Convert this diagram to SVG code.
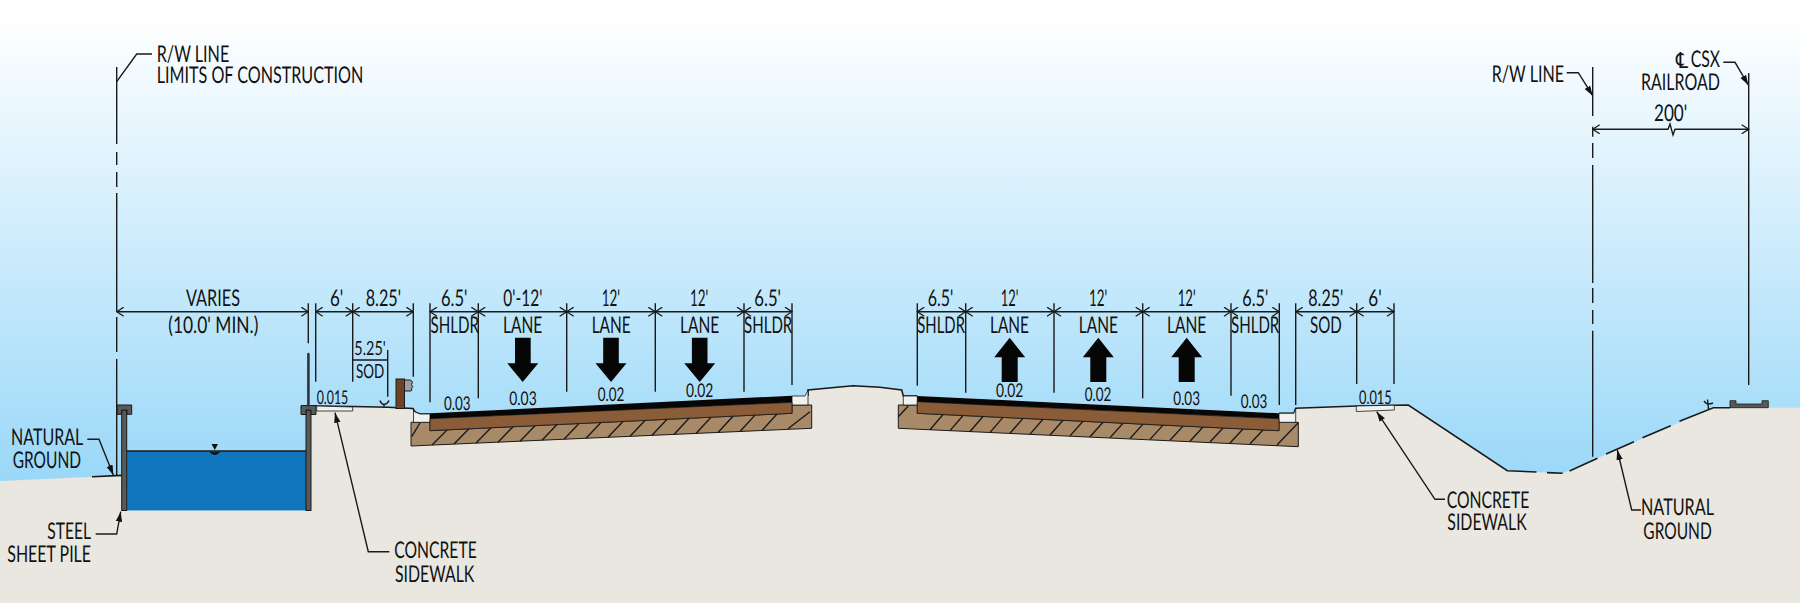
<svg xmlns="http://www.w3.org/2000/svg" width="1800" height="603" viewBox="0 0 1800 603">
<style>
text{font-family:"Lato","Open Sans","Liberation Sans",sans-serif;font-size:23px;fill:#111;text-rendering:geometricPrecision}
text.s{font-size:19.5px}
text.n{font-size:19px}
.l{fill:none;stroke:#1a1a1a;stroke-width:1.4}
.d{fill:none;stroke:#1a1a1a;stroke-width:1.4;marker-start:url(#chev);marker-end:url(#chev)}
.a{fill:none;stroke:#1a1a1a;stroke-width:1.4;marker-end:url(#tip)}
.g{fill:none;stroke:#1a1a1a;stroke-width:1.6}
.pile{fill:#58595b;stroke:#1a1a1a;stroke-width:1}
.conc{fill:#f1f1ee;stroke:#1a1a1a;stroke-width:.8}
.arrow{fill:#060606}
</style>
<defs>
<linearGradient id="sky" x1="0" y1="0" x2="0" y2="1">
<stop offset="0" stop-color="#ffffff"/>
<stop offset=".03" stop-color="#ffffff"/>
<stop offset=".5" stop-color="#cdecfc"/>
<stop offset="1" stop-color="#98d7f8"/>
</linearGradient>
<marker id="chev" viewBox="-8 -5 9 10" refX="0" refY="0" markerWidth="9" markerHeight="10" markerUnits="userSpaceOnUse" orient="auto-start-reverse">
<path d="M-7,-4.5 L0,0 L-7,4.5" fill="none" stroke="#1a1a1a" stroke-width="1.3"/>
</marker>
<marker id="tip" viewBox="-10 -4 11 8" refX="0" refY="0" markerWidth="11" markerHeight="8" markerUnits="userSpaceOnUse" orient="auto">
<path d="M-10,-3.2 L0,0 L-10,3.2 Z" fill="#111"/>
</marker>
</defs>

<rect id="sky-bg" width="1800" height="490" fill="url(#sky)"/>

<g id="ground">
<path fill="#e9e7df" d="M0,481 L122,475.4 L122,511 L311,511 L311,406 L353,406.5 L388,407.3 L413,408.5 L415,412 L420,414 L430,414 L792,396 L808,396 L808,390 L853,385.7 L880,387.3 L901.7,390 L903.3,396 L917.3,396 L1279,413.3 L1294,413 L1295.7,408.3 L1356.7,406 L1408.3,405 L1507.3,470.7 L1562.7,473.3 L1713.3,407.7 L1800,407.7 L1800,603 L0,603 Z"/>
<path class="g" d="M92,476.7 L122,475.4"/>
<path class="g" d="M316,406 L353,406.5 L388,407.3 L413,408.5 L415,412 L420,414 L430,414"/>
<path class="g" stroke-width="1" d="M808,396 L808,390 L853,385.7 L880,387.3 L901.7,390 L903.3,396 L917.3,396"/>
<path class="g" d="M1279,413.3 L1294,413 L1295.7,408.3 L1356.7,406 L1408.3,405 L1507.3,470.7 L1536.5,472 M1547,472.6 L1562.7,473.3 M1569.5,471 L1597.5,458.3 M1606,454 L1634,441.7 M1642.5,437.7 L1670.7,425.7 M1679.5,421.3 L1713.3,407.7 L1730,407.7"/>
</g>

<g id="water">
<rect x="127" y="451" width="179" height="59.5" fill="#1175bd"/>
<path class="g" d="M127,451 H306"/>
<path fill="#111" d="M211.5,444 H218 L214.8,450 Z M209,451.5 Q214.8,453 220.5,451.5 Q217,455 214.8,455 Q212,455 209,451.5 Z"/>
</g>

<g id="left-pile">
<rect class="pile" x="121.7" y="410" width="5" height="100.5"/>
<path class="pile" d="M117,405 H131.7 V414.3 H127 V410 H121.7 V414.3 H117 Z"/>
</g>
<g id="right-pile">
<rect class="pile" x="306" y="410" width="5" height="100.5"/>
<path class="pile" d="M301,405.5 H316 V414.5 H311 V410 H306 V414.5 H301 Z"/>
<path d="M308.4,354 V405.5" fill="none" stroke="#333" stroke-width="2.6" stroke-linecap="round"/>
</g>

<g id="left-sidewalk"><path class="conc" d="M316.7,406 L352.7,407 V411 H316.7 Z"/></g>
<g id="barrier">
<rect x="396" y="379" width="8.5" height="29.5" fill="#6e4325" stroke="#1a1a1a" stroke-width="1"/>
<path d="M404.5,380 H410.7 Q413.8,382 411.5,384.5 Q413.8,386.5 411.5,388.5 Q412.8,390.5 410.7,391 H404.5 Z" fill="#9b9da0" stroke="#1a1a1a" stroke-width="1"/>
</g>
<g id="grade-mark-left"><path class="l" d="M380,400.5 Q381,404 384,404.5 Q387.5,404 389,400.5 M384,404.5 V407"/></g>
<g id="grade-mark-right"><path class="l" d="M1704,401 Q1706,404 1708.5,404 Q1710.5,404 1713,403 M1707.5,399.5 L1708.5,409"/></g>

<g id="left-roadway">
<path fill="#a98a68" stroke="#1a1a1a" stroke-width="1" d="M411,422.3 H430 V430.7 L792,413.3 V405 H811.7 V428.3 L411,446 Z"/>
<path class="conc" d="M413.5,410.5 L415,412 L420,414 H430 V422.3 H413.5 Z"/>
<path class="conc" d="M792,396 H805 L808,390 V405 H792 Z"/>
<path fill="#8a5c38" stroke="#1a1a1a" stroke-width=".8" d="M430,418.7 L792,402.3 V413.3 L430,430.7 Z"/>
<path fill="#060606" d="M430,413.3 L792,395.7 V402.3 L430,418.7 Z"/>
<path class="l" d="M411.7,436.7 L420,423 M432,445.1 L447,429.9 M454,444.1 L469,428.8 M476,443.1 L491,427.8 M498,442.2 L513,426.7 M520,441.2 L535,425.7 M542,440.2 L557,424.6 M564,439.2 L579,423.5 M586,438.3 L601,422.5 M608,437.3 L623,421.4 M630,436.3 L645,420.4 M652,435.3 L667,419.3 M674,434.4 L689,418.3 M696,433.4 L711,417.2 M718,432.4 L733,416.2 M740,431.5 L755,415.1 M762,430.5 L777,414 M788,428.8 L810,411.7"/>
</g>

<g id="right-roadway">
<path fill="#a98a68" stroke="#1a1a1a" stroke-width="1" d="M898.3,405 H917.3 V413.3 L1279,430.7 V422.3 H1298.3 V446.7 L898.3,428.3 Z"/>
<path class="conc" d="M903.3,396 H917.3 V405 H903.3 Z"/>
<path class="conc" d="M1279,413.3 H1294 L1295.7,408.3 V422.3 H1279 Z"/>
<path fill="#8a5c38" stroke="#1a1a1a" stroke-width=".8" d="M917.3,401.7 L1279,418.7 V430.7 L917.3,413.3 Z"/>
<path fill="#060606" d="M917.3,396 L1279,413.3 V418.7 L917.3,401.7 Z"/>
<path class="l" d="M898.3,416.7 L908.3,406 M930,429.7 L943,414.5 M950,430.6 L963,415.5 M970,431.5 L983,416.5 M990,432.4 L1003,417.4 M1010,433.2 L1023,418.4 M1030,434.1 L1043,419.3 M1050,435 L1063,420.3 M1070,435.9 L1083,421.3 M1090,436.7 L1103,422.2 M1110,437.6 L1123,423.2 M1130,438.5 L1143,424.1 M1150,439.4 L1163,425.1 M1170,440.3 L1183,426.1 M1190,441.2 L1203,427 M1210,442 L1223,428 M1230,442.9 L1243,428.9 M1250,443.8 L1263,429.9 M1277,445 L1298,423"/>
</g>

<g id="right-sidewalk"><path class="conc" d="M1356.3,406 L1394.3,405.2 V410 L1356.3,411.5 Z"/></g>
<g id="track"><path fill="#58595b" stroke="#1a1a1a" stroke-width=".8" d="M1730,400.7 H1736 V404 H1762 V400.7 H1768.3 V407.7 H1730 Z"/></g>

<g id="lane-arrows">
<path class="arrow" id="lane-arrow-1" d="M515,337.7 H530.7 V363.3 H538.3 L522.7,382 L507.3,363.3 H515 Z"/>
<path class="arrow" id="lane-arrow-2" d="M603.2,337.7 H618.8 V363.3 H626.5 L611,382 L595.5,363.3 H603.2 Z"/>
<path class="arrow" id="lane-arrow-3" d="M691.9,337.7 H707.5 V363.3 H715.2 L699.7,382 L684.2,363.3 H691.9 Z"/>
<path class="arrow" id="lane-arrow-4" d="M1009.7,337.7 L1025.2,357.3 H1017.7 V382 H1001.7 V357.3 H994.2 Z"/>
<path class="arrow" id="lane-arrow-5" d="M1098.3,337.7 L1113.8,357.3 H1106.3 V382 H1090.3 V357.3 H1082.8 Z"/>
<path class="arrow" id="lane-arrow-6" d="M1186.7,337.7 L1202.2,357.3 H1194.7 V382 H1178.7 V357.3 H1171.2 Z"/>
</g>

<g id="connectors">
<path class="l" d="M116.7,67 V144 M116.7,152 V165 M116.7,172 V187 M116.7,193 V312 M116.7,317 V352 M116.7,359 V475"/>
<path class="l" d="M1592.7,67 V116 M1592.7,126.7 V136.7 M1592.7,143 V158 M1592.7,165 V283 M1592.7,288 V303 M1592.7,310 V324 M1592.7,330.7 V456.7"/>
<path class="l" stroke-width="1.6" d="M1748.7,73 V385"/>
<path class="l" d="M308.3,303.3 V343.3 M315.7,303.3 V381.7 M352.7,303.3 V381.7 M413.3,303.3 V376.7 M387.7,350 V396.7 M352.7,360 H387.7"/>
<path class="l" d="M430,303.3 V402.3 M478.3,303.3 V398.3 M566.7,303.3 V391.7 M655.3,303.3 V391.7 M744,303.3 V391.7 M792,303.3 V385"/>
<path class="l" d="M917.3,303.3 V385.7 M965.7,303.3 V392.7 M1054,303.3 V392.7 M1142.7,303.3 V398.3 M1231,303.3 V395.7 M1279.3,303.3 V405 M1295.7,303.3 V405 M1356.7,303.3 V384 M1394,303.3 V384"/>
<path class="d" d="M116.7,311.7 H308.3"/>
<path class="d" d="M315.7,311.7 H352.7"/>
<path class="d" d="M352.7,311.7 H413.3"/>
<path class="d" d="M430,311.7 H478.3"/>
<path class="d" d="M478.3,311.7 H566.7"/>
<path class="d" d="M566.7,311.7 H655.3"/>
<path class="d" d="M655.3,311.7 H744"/>
<path class="d" d="M744,311.7 H792"/>
<path class="d" d="M917.3,311.7 H965.7"/>
<path class="d" d="M965.7,311.7 H1054"/>
<path class="d" d="M1054,311.7 H1142.7"/>
<path class="d" d="M1142.7,311.7 H1231"/>
<path class="d" d="M1231,311.7 H1279.3"/>
<path class="d" d="M1295.7,311.7 H1356.7"/>
<path class="d" d="M1356.7,311.7 H1394"/>
<path class="d" d="M1592.7,129.3 H1668 L1670,124 L1673,135 L1675,129.3 H1748.7"/>
<path class="l" d="M152,54 H136.7 L116.7,81.7"/>
<path class="a" d="M1566.7,72.7 H1578.3 L1592.7,95.7"/>
<path class="a" d="M1723.3,62.3 H1735 L1748.3,85"/>
<path class="a" d="M87.3,439.3 H99 L113.3,475"/>
<path class="a" d="M95.7,534 H116.7 L120.7,511.7"/>
<path class="a" d="M389.3,551.7 H368.3 L335,412.7"/>
<path class="a" d="M1445,499.3 H1435 L1376.7,411.7"/>
<path class="a" d="M1641,510 H1631.7 L1617.3,450"/>
</g>

<g id="labels">
<text x="156.7" y="61.7" textLength="72.6" lengthAdjust="spacingAndGlyphs">R/W LINE</text>
<text x="156.7" y="83.3" textLength="206.6" lengthAdjust="spacingAndGlyphs">LIMITS OF CONSTRUCTION</text>
<text x="1491.7" y="81.7" textLength="72.3" lengthAdjust="spacingAndGlyphs">R/W LINE</text>
<text x="1676" y="68" style="font-family:'DejaVu Sans',sans-serif;font-size:22px" textLength="12" lengthAdjust="spacingAndGlyphs">℄</text>
<text x="1690.7" y="67.3" textLength="29.3" lengthAdjust="spacingAndGlyphs">CSX</text>
<text x="1641" y="90" textLength="79" lengthAdjust="spacingAndGlyphs">RAILROAD</text>
<text x="1654" y="120.7" textLength="33.3" lengthAdjust="spacingAndGlyphs">200'</text>

<text x="186" y="306" textLength="54" lengthAdjust="spacingAndGlyphs">VARIES</text>
<text x="168.3" y="333.3" textLength="90" lengthAdjust="spacingAndGlyphs">(10.0' MIN.)</text>
<text x="330" y="306" textLength="13.3" lengthAdjust="spacingAndGlyphs">6'</text>
<text x="365.7" y="306" textLength="35.3" lengthAdjust="spacingAndGlyphs">8.25'</text>
<text class="s" x="354.3" y="355" textLength="31.4" lengthAdjust="spacingAndGlyphs">5.25'</text>
<text class="s" x="356" y="378.3" textLength="28.3" lengthAdjust="spacingAndGlyphs">SOD</text>
<text x="441" y="306" textLength="26.5" lengthAdjust="spacingAndGlyphs">6.5'</text>
<text x="503.3" y="306" textLength="39" lengthAdjust="spacingAndGlyphs">0'-12'</text>
<text x="601.7" y="306" textLength="18.3" lengthAdjust="spacingAndGlyphs">12'</text>
<text x="690" y="306" textLength="18.3" lengthAdjust="spacingAndGlyphs">12'</text>
<text x="754.3" y="306" textLength="26.7" lengthAdjust="spacingAndGlyphs">6.5'</text>
<text x="430.5" y="333.3" textLength="48.5" lengthAdjust="spacingAndGlyphs">SHLDR</text>
<text x="503" y="333.3" textLength="39.3" lengthAdjust="spacingAndGlyphs">LANE</text>
<text x="591.7" y="333.3" textLength="39" lengthAdjust="spacingAndGlyphs">LANE</text>
<text x="680" y="333.3" textLength="39.3" lengthAdjust="spacingAndGlyphs">LANE</text>
<text x="744" y="333.3" textLength="48.3" lengthAdjust="spacingAndGlyphs">SHLDR</text>

<text x="927.7" y="306" textLength="25.6" lengthAdjust="spacingAndGlyphs">6.5'</text>
<text x="1000.7" y="306" textLength="17.6" lengthAdjust="spacingAndGlyphs">12'</text>
<text x="1089" y="306" textLength="18.3" lengthAdjust="spacingAndGlyphs">12'</text>
<text x="1177.7" y="306" textLength="18" lengthAdjust="spacingAndGlyphs">12'</text>
<text x="1242.3" y="306" textLength="26" lengthAdjust="spacingAndGlyphs">6.5'</text>
<text x="1308.3" y="306" textLength="35" lengthAdjust="spacingAndGlyphs">8.25'</text>
<text x="1368.3" y="306" textLength="13.4" lengthAdjust="spacingAndGlyphs">6'</text>
<text x="917.3" y="333.3" textLength="47.7" lengthAdjust="spacingAndGlyphs">SHLDR</text>
<text x="990" y="333.3" textLength="39" lengthAdjust="spacingAndGlyphs">LANE</text>
<text x="1078.7" y="333.3" textLength="39.3" lengthAdjust="spacingAndGlyphs">LANE</text>
<text x="1167" y="333.3" textLength="39.3" lengthAdjust="spacingAndGlyphs">LANE</text>
<text x="1231" y="333.3" textLength="48.3" lengthAdjust="spacingAndGlyphs">SHLDR</text>
<text x="1310" y="333.3" textLength="31.7" lengthAdjust="spacingAndGlyphs">SOD</text>

<text class="n" x="316.7" y="404" textLength="31.6" lengthAdjust="spacingAndGlyphs">0.015</text>
<text class="n" x="444" y="410" textLength="26.5" lengthAdjust="spacingAndGlyphs">0.03</text>
<text class="n" x="509.3" y="405" textLength="27.4" lengthAdjust="spacingAndGlyphs">0.03</text>
<text class="n" x="597.7" y="401" textLength="26.6" lengthAdjust="spacingAndGlyphs">0.02</text>
<text class="n" x="686" y="397.3" textLength="27.3" lengthAdjust="spacingAndGlyphs">0.02</text>
<text class="n" x="996" y="396.7" textLength="27.3" lengthAdjust="spacingAndGlyphs">0.02</text>
<text class="n" x="1084.7" y="400.7" textLength="26.6" lengthAdjust="spacingAndGlyphs">0.02</text>
<text class="n" x="1173.3" y="405" textLength="26.7" lengthAdjust="spacingAndGlyphs">0.03</text>
<text class="n" x="1240.7" y="408.3" textLength="26.6" lengthAdjust="spacingAndGlyphs">0.03</text>
<text class="n" x="1359" y="404" textLength="32.7" lengthAdjust="spacingAndGlyphs">0.015</text>

<text x="11" y="445" textLength="72.3" lengthAdjust="spacingAndGlyphs">NATURAL</text>
<text x="12.7" y="468.3" textLength="68.3" lengthAdjust="spacingAndGlyphs">GROUND</text>
<text x="47.3" y="539" textLength="43.7" lengthAdjust="spacingAndGlyphs">STEEL</text>
<text x="7.3" y="562.3" textLength="83.7" lengthAdjust="spacingAndGlyphs">SHEET PILE</text>
<text x="394.3" y="558.3" textLength="82.4" lengthAdjust="spacingAndGlyphs">CONCRETE</text>
<text x="395" y="581.7" textLength="79.3" lengthAdjust="spacingAndGlyphs">SIDEWALK</text>
<text x="1446.7" y="507.7" textLength="82.6" lengthAdjust="spacingAndGlyphs">CONCRETE</text>
<text x="1447.3" y="530" textLength="79.4" lengthAdjust="spacingAndGlyphs">SIDEWALK</text>
<text x="1641" y="515.3" textLength="73" lengthAdjust="spacingAndGlyphs">NATURAL</text>
<text x="1643.3" y="538.7" textLength="68.4" lengthAdjust="spacingAndGlyphs">GROUND</text>
</g>
</svg>
